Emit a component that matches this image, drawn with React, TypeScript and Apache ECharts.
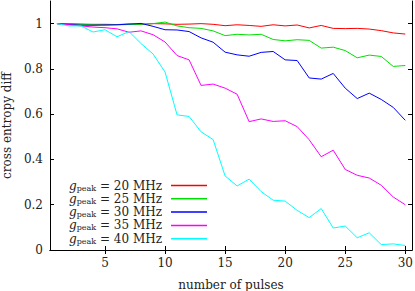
import React, { useEffect, useRef } from "react";
import * as echarts from "echarts";

const pulses = [1, 2, 3, 4, 5, 6, 7, 8, 9, 10, 11, 12, 13, 14, 15, 16, 17, 18, 19, 20, 21, 22, 23, 24, 25, 26, 27, 28, 29, 30];

const g20 = [1.0, 1.0, 0.998, 0.997, 0.997, 0.996, 0.998, 0.997, 1.0, 0.999, 0.997, 0.998, 1.0, 0.997, 0.991, 0.995, 0.992, 0.988, 0.995, 0.99, 0.994, 0.981, 0.992, 0.979, 0.978, 0.979, 0.976, 0.969, 0.959, 0.954];
const g25 = [1.0, 0.998, 0.997, 0.995, 0.994, 0.995, 0.996, 0.997, 1.0, 1.007, 0.99, 0.982, 0.979, 0.968, 0.947, 0.953, 0.95, 0.953, 0.93, 0.924, 0.929, 0.926, 0.892, 0.896, 0.881, 0.849, 0.861, 0.855, 0.811, 0.815];
const g30 = [1.0, 0.996, 0.993, 0.993, 0.994, 0.995, 0.998, 1.001, 0.988, 0.973, 0.972, 0.965, 0.937, 0.918, 0.874, 0.862, 0.856, 0.873, 0.877, 0.84, 0.837, 0.76, 0.755, 0.78, 0.715, 0.669, 0.693, 0.665, 0.63, 0.573];
const g35 = [1.0, 0.995, 0.99, 0.985, 0.982, 0.977, 0.962, 0.968, 0.951, 0.919, 0.859, 0.84, 0.727, 0.733, 0.715, 0.688, 0.567, 0.579, 0.568, 0.571, 0.545, 0.487, 0.412, 0.441, 0.356, 0.33, 0.318, 0.286, 0.234, 0.2];
const g40 = [1.0, 0.99, 0.99, 0.963, 0.973, 0.942, 0.965, 0.912, 0.866, 0.786, 0.597, 0.59, 0.522, 0.488, 0.327, 0.283, 0.313, 0.258, 0.22, 0.216, 0.175, 0.143, 0.183, 0.097, 0.106, 0.054, 0.076, 0.024, 0.027, 0.02];

const seriesNames = ["20", "25", "30", "35", "40"];
const seriesColors = ["#ff0000", "#00e000", "#0000ff", "#ff00ff", "#00ffff"];
const seriesData = [g20, g25, g30, g35, g40];

const xTicks = [5, 10, 15, 20, 25, 30];
const yTicks = [0, 0.2, 0.4, 0.6, 0.8, 1];

const FONT = "DejaVu Serif";

export default function App() {
  const ref = useRef<HTMLDivElement>(null);
  useEffect(() => {
    if (!ref.current) return;
    const chart = echarts.init(ref.current, null, { renderer: "svg" });
    const xMin = 0.42;
    const xMax = 30.56;
    const yMin = 0;
    const yMax = 1.1;
    const axisLine = { show: true, lineStyle: { color: "#000", width: 1 } };
    chart.setOption({
      animation: false,
      textStyle: { fontFamily: FONT },
      grid: { left: 50, right: 3, top: 1, bottom: 41, outerBoundsMode: "none", containLabel: false },
      legend: {
        orient: "vertical",
        right: 208,
        top: 179,
        align: "right",
        itemWidth: 36,
        itemHeight: 1.5,
        itemGap: 0.3,
        padding: 0,
        icon: "rect",
        data: seriesNames.map((n) => "g" + n),
        formatter: (name: string) => "{it|g}{sub|peak}{t| = " + name.slice(1) + " MHz}",
        textStyle: {
          fontFamily: FONT,
          color: "#222",
          lineHeight: 13,
          padding: [0, 4, 0, 0],
          rich: {
            it: { fontFamily: FONT, fontStyle: "italic", fontSize: 12, lineHeight: 13, color: "#222" },
            sub: { fontFamily: FONT, fontSize: 8, lineHeight: 6, verticalAlign: "bottom", color: "#222" },
            t: { fontFamily: FONT, fontSize: 12, lineHeight: 13, color: "#222" },
          },
        },
      },
      xAxis: [
        {
          type: "value",
          min: xMin,
          max: xMax,
          position: "bottom",
          name: "number of pulses",
          nameLocation: "middle",
          nameGap: 29,
          nameTextStyle: { fontFamily: FONT, fontSize: 12, color: "#222" },
          axisLine,
          splitLine: { show: false },
          axisTick: { inside: true, length: 4, customValues: xTicks, lineStyle: { color: "#000" } },
          axisLabel: { customValues: xTicks, fontFamily: FONT, fontSize: 12, color: "#222", margin: 7 },
        },
        {
          type: "value",
          min: xMin,
          max: xMax,
          position: "top",
          axisLine,
          splitLine: { show: false },
          axisTick: { inside: true, length: 4, customValues: xTicks, lineStyle: { color: "#000" } },
          axisLabel: { show: false },
        },
      ],
      yAxis: [
        {
          type: "value",
          min: yMin,
          max: yMax,
          position: "left",
          name: "cross entropy diff",
          nameLocation: "middle",
          nameGap: 35,
          nameRotate: 90,
          nameTextStyle: { fontFamily: FONT, fontSize: 12, color: "#222" },
          axisLine,
          splitLine: { show: false },
          axisTick: { inside: true, length: 4, customValues: yTicks, lineStyle: { color: "#000" } },
          axisLabel: {
            customValues: yTicks,
            fontFamily: FONT,
            fontSize: 12,
            color: "#222",
            margin: 7,
            formatter: (v: number) => String(Math.round(v * 10) / 10),
          },
        },
        {
          type: "value",
          min: yMin,
          max: yMax,
          position: "right",
          axisLine,
          splitLine: { show: false },
          axisTick: { inside: true, length: 4, customValues: yTicks, lineStyle: { color: "#000" } },
          axisLabel: { show: false },
        },
      ],
      series: seriesNames.map((n, i) => ({
        name: "g" + n,
        type: "line",
        xAxisIndex: 0,
        yAxisIndex: 0,
        symbol: "none",
        color: seriesColors[i],
        lineStyle: { color: seriesColors[i], width: 1 },
        data: pulses.map((p, j) => [p, seriesData[i][j]]),
      })),
    });
    return () => chart.dispose();
  }, []);
  return <div ref={ref} style={{ width: 415, height: 291, position: "absolute", left: 0, top: 0 }} />;
}
